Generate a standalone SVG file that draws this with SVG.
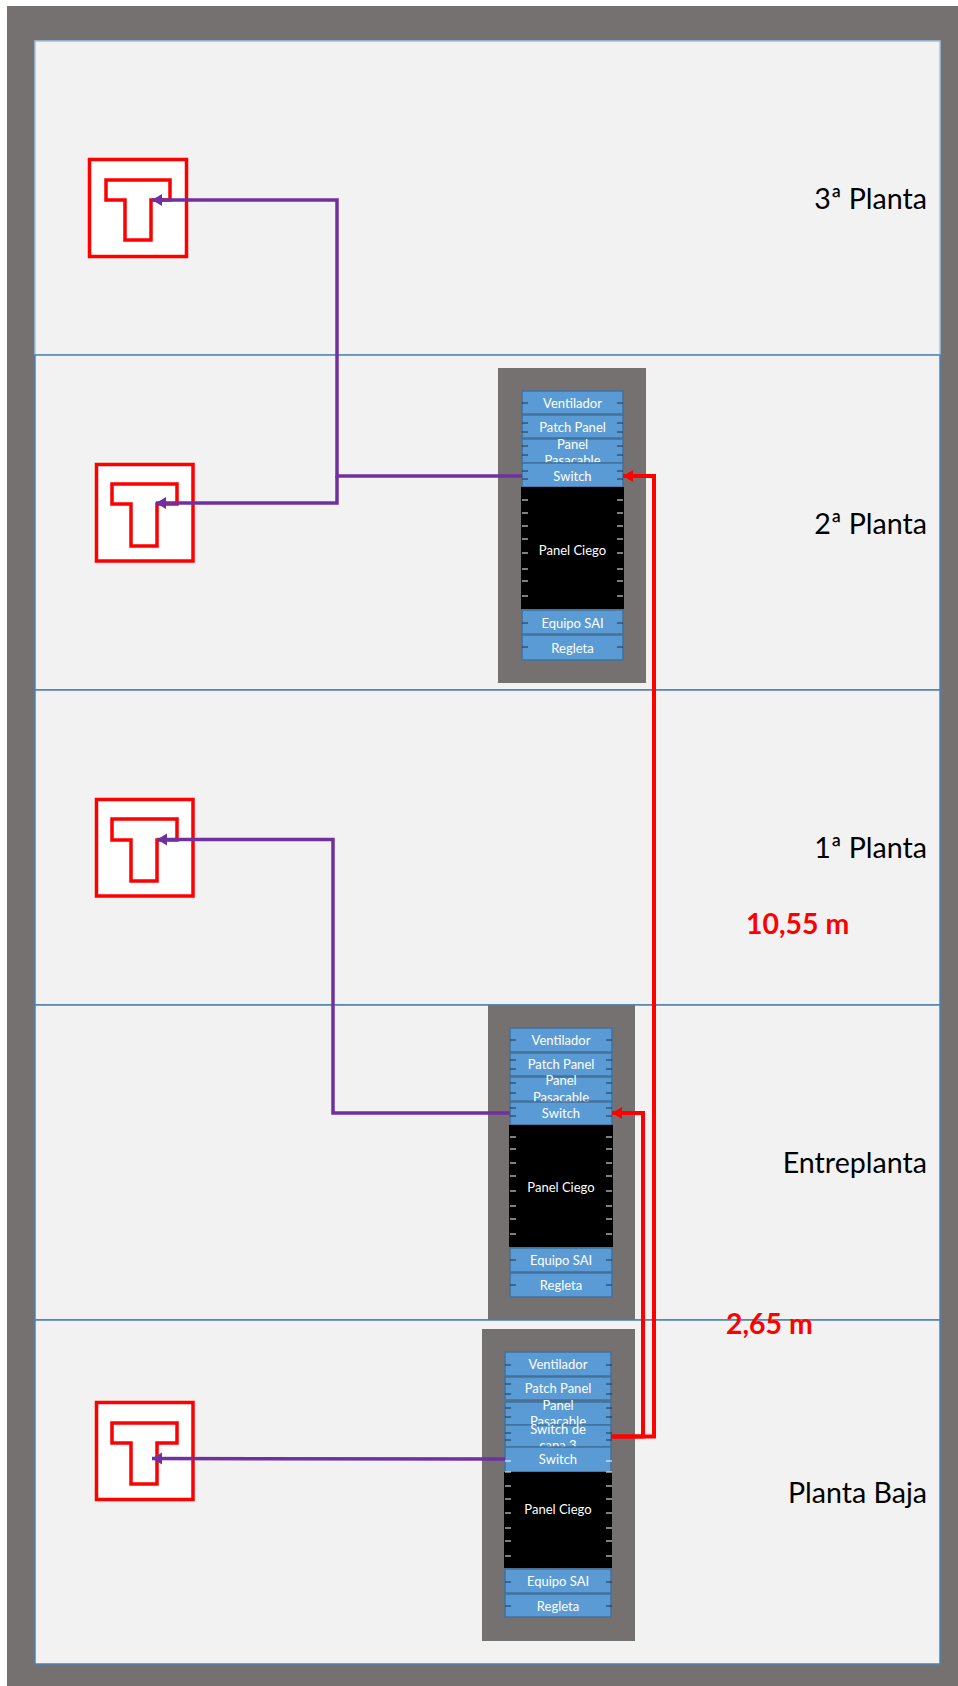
<svg xmlns="http://www.w3.org/2000/svg" width="958" height="1686" viewBox="0 0 958 1686">
<style>
.floor{fill:#F2F2F2;stroke:#4F81AE;stroke-width:1.5}
.frame{fill:#767171}
.rack{fill:#767171}
.u{fill:#5B9BD5;stroke:#41719C;stroke-width:1.5}
.k{fill:#000}
.t{font-family:"Lato","Liberation Sans",sans-serif;font-size:13px;fill:#fff;text-anchor:middle}
.tick{stroke:#1F3347;stroke-width:1;fill:none}
.tickw{stroke:#fff;stroke-width:1;fill:none}
.fl{font-family:"Lato","Liberation Sans",sans-serif;font-size:28.6px;fill:#000;text-anchor:end}
.dim{font-family:"Lato","Liberation Sans",sans-serif;font-size:28.4px;font-weight:700;fill:#FF0000}
.box{fill:#fff;stroke:#FF0000;stroke-width:3.5}
.p{fill:none;stroke:#7030A0;stroke-width:3.5}
.r{fill:none;stroke:#FF0000;stroke-width:4}
</style>
<defs>
<marker id="ap" markerUnits="userSpaceOnUse" markerWidth="13" markerHeight="14" refX="11" refY="7" orient="auto"><path d="M1 1L11 7L1 13Z" fill="#7030A0"/></marker>
<marker id="ar" markerUnits="userSpaceOnUse" markerWidth="13" markerHeight="14" refX="11" refY="7" orient="auto"><path d="M1 1L11 7L1 13Z" fill="#FF0000"/></marker>
</defs>
<rect width="958" height="1686" fill="#fff"/>
<rect class="frame" x="7" y="6" width="951" height="1680"/>
<g id="floors">
<rect id="floor-3" class="floor" style="stroke:#9DC3E6" x="35" y="41" width="905" height="314"/>
<rect id="floor-2" class="floor" x="35" y="355" width="905" height="335"/>
<rect id="floor-1" class="floor" x="35" y="690" width="905" height="315"/>
<rect id="floor-e" class="floor" x="35" y="1005" width="905" height="315"/>
<rect id="floor-b" class="floor" x="35" y="1320" width="905" height="344"/>
</g>
<g id="rack-2">
<rect class="rack" x="498" y="368" width="148" height="315"/>
<rect class="u" x="522" y="391" width="101" height="23"/><text class="t" x="572.5" y="408">Ventilador</text>
<rect class="u" x="522" y="415" width="101" height="23"/><text class="t" x="572.5" y="432">Patch Panel</text>
<rect class="u" x="522" y="439" width="101" height="24"/><text class="t" x="572.5" y="449">Panel</text><text class="t" x="572.5" y="465">Pasacable</text>
<rect class="u" x="522" y="463" width="101" height="24"/><text class="t" x="572.5" y="481">Switch</text>
<rect class="k" x="521" y="487" width="103" height="122"/><text class="t" x="572.5" y="555">Panel Ciego</text>
<rect class="u" x="522" y="610" width="101" height="24"/><text class="t" x="572.5" y="628">Equipo SAI</text>
<rect class="u" x="522" y="635" width="101" height="25"/><text class="t" x="572.5" y="653">Regleta</text>
<path class="tick" d="M522 403h6M617 403h6M522 423h6M617 423h6M522 432h6M617 432h6M522 446h6M617 446h6M522 455h6M617 455h6M522 471h6M617 471h6M522 479h6M617 479h6M522 623h6M617 623h6M522 647h6M617 647h6"/>
<path class="tickw" d="M522 500h6M617 500h6M522 513h6M617 513h6M522 526h6M617 526h6M522 539h6M617 539h6M522 553h6M617 553h6M522 569h6M617 569h6M522 581h6M617 581h6M522 596h6M617 596h6"/>
</g>
<g id="rack-e">
<rect class="rack" x="488" y="1005" width="147" height="315"/>
<rect class="u" x="510" y="1028" width="102" height="24"/><text class="t" x="561" y="1045">Ventilador</text>
<rect class="u" x="510" y="1053" width="102" height="23"/><text class="t" x="561" y="1069">Patch Panel</text>
<rect class="u" x="510" y="1077" width="102" height="24"/><text class="t" x="561" y="1085">Panel</text><text class="t" x="561" y="1102">Pasacable</text>
<rect class="u" x="510" y="1102" width="102" height="23"/><text class="t" x="561" y="1118">Switch</text>
<rect class="k" x="509" y="1125" width="104" height="122"/><text class="t" x="561" y="1192">Panel Ciego</text>
<rect class="u" x="510" y="1248" width="102" height="24"/><text class="t" x="561" y="1265">Equipo SAI</text>
<rect class="u" x="510" y="1273" width="102" height="24"/><text class="t" x="561" y="1290">Regleta</text>
<path class="tick" d="M510 1040h6M606 1040h6M510 1060h6M606 1060h6M510 1069h6M606 1069h6M510 1083h6M606 1083h6M510 1093h6M606 1093h6M510 1108h6M606 1108h6M510 1116h6M606 1116h6M510 1260h6M606 1260h6M510 1285h6M606 1285h6"/>
<path class="tickw" d="M510 1137h6M606 1137h6M510 1149h6M606 1149h6M510 1163h6M606 1163h6M510 1176h6M606 1176h6M510 1191h6M606 1191h6M510 1206h6M606 1206h6M510 1219h6M606 1219h6M510 1234h6M606 1234h6"/>
</g>
<g id="rack-b">
<rect class="rack" x="482" y="1329" width="153" height="312"/>
<rect class="u" x="505" y="1352" width="106" height="24"/><text class="t" x="558" y="1369">Ventilador</text>
<rect class="u" x="505" y="1377" width="106" height="23"/><text class="t" x="558" y="1393">Patch Panel</text>
<rect class="u" x="505" y="1402" width="106" height="23"/><text class="t" x="558" y="1410">Panel</text><text class="t" x="558" y="1426">Pasacable</text>
<rect class="u" x="505" y="1425" width="106" height="22"/><text class="t" x="558" y="1434">Switch de</text><text class="t" x="558" y="1450">capa 3</text>
<rect class="u" x="505" y="1447" width="106" height="25"/><text class="t" x="558" y="1464">Switch</text>
<rect class="k" x="504" y="1472" width="108" height="96"/><text class="t" x="558" y="1514">Panel Ciego</text>
<rect class="u" x="505" y="1569" width="106" height="24"/><text class="t" x="558" y="1586">Equipo SAI</text>
<rect class="u" x="505" y="1594" width="106" height="23"/><text class="t" x="558" y="1611">Regleta</text>
<path class="tick" d="M505 1365h6M606 1365h6M505 1384h6M606 1384h6M505 1394h6M606 1394h6M505 1408h6M606 1408h6M505 1417h6M606 1417h6M505 1433h6M606 1433h6M505 1440h6M606 1440h6M505 1582h6M606 1582h6M505 1606h6M606 1606h6"/>
<path class="tickw" d="M505 1461h6M606 1461h6M505 1472h6M606 1472h6M505 1486h6M606 1486h6M505 1499h6M606 1499h6M505 1513h6M606 1513h6M505 1528h6M606 1528h6M505 1541h6M606 1541h6M505 1556h6M606 1556h6"/>
</g>
<g id="outlet-3"><rect class="box" x="89.5" y="159.5" width="97" height="97"/><path class="box" d="M106 180H170V200H151V240H125V200H106Z"/></g>
<g id="outlet-2"><rect class="box" x="96.5" y="464.5" width="96.5" height="96.5"/><path class="box" d="M112 484H177V504H157V546H131V504H112Z"/></g>
<g id="outlet-1"><rect class="box" x="96.5" y="799.5" width="96.5" height="96.5"/><path class="box" d="M112 819H177V840H157V881H131V840H112Z"/></g>
<g id="outlet-b"><rect class="box" x="96.5" y="1402.5" width="96.5" height="97"/><path class="box" d="M112 1423H177V1443H157V1484H131V1443H112Z"/></g>
<g id="connectors">
<path class="p" marker-end="url(#ap)" d="M522 476H337V200H152"/>
<path class="p" marker-end="url(#ap)" d="M337 476V503H156"/>
<path class="p" marker-end="url(#ap)" d="M510 1113H333V839.5H157"/>
<path class="p" marker-end="url(#ap)" d="M505 1459L152 1458.5"/>
<path class="r" marker-end="url(#ar)" d="M611 1436.5H654V476H623"/>
<path class="r" marker-end="url(#ar)" d="M611 1436.5H643V1113H612"/>
</g>
<g id="labels">
<text class="fl" x="927" y="209">3ª Planta</text>
<text class="fl" x="927" y="534">2ª Planta</text>
<text class="fl" x="927" y="858">1ª Planta</text>
<text class="fl" x="927" y="1173">Entreplanta</text>
<text class="fl" x="927" y="1503">Planta Baja</text>
<text class="dim" x="746" y="934">10,55 m</text>
<text class="dim" x="726" y="1334">2,65 m</text>
</g>
</svg>
